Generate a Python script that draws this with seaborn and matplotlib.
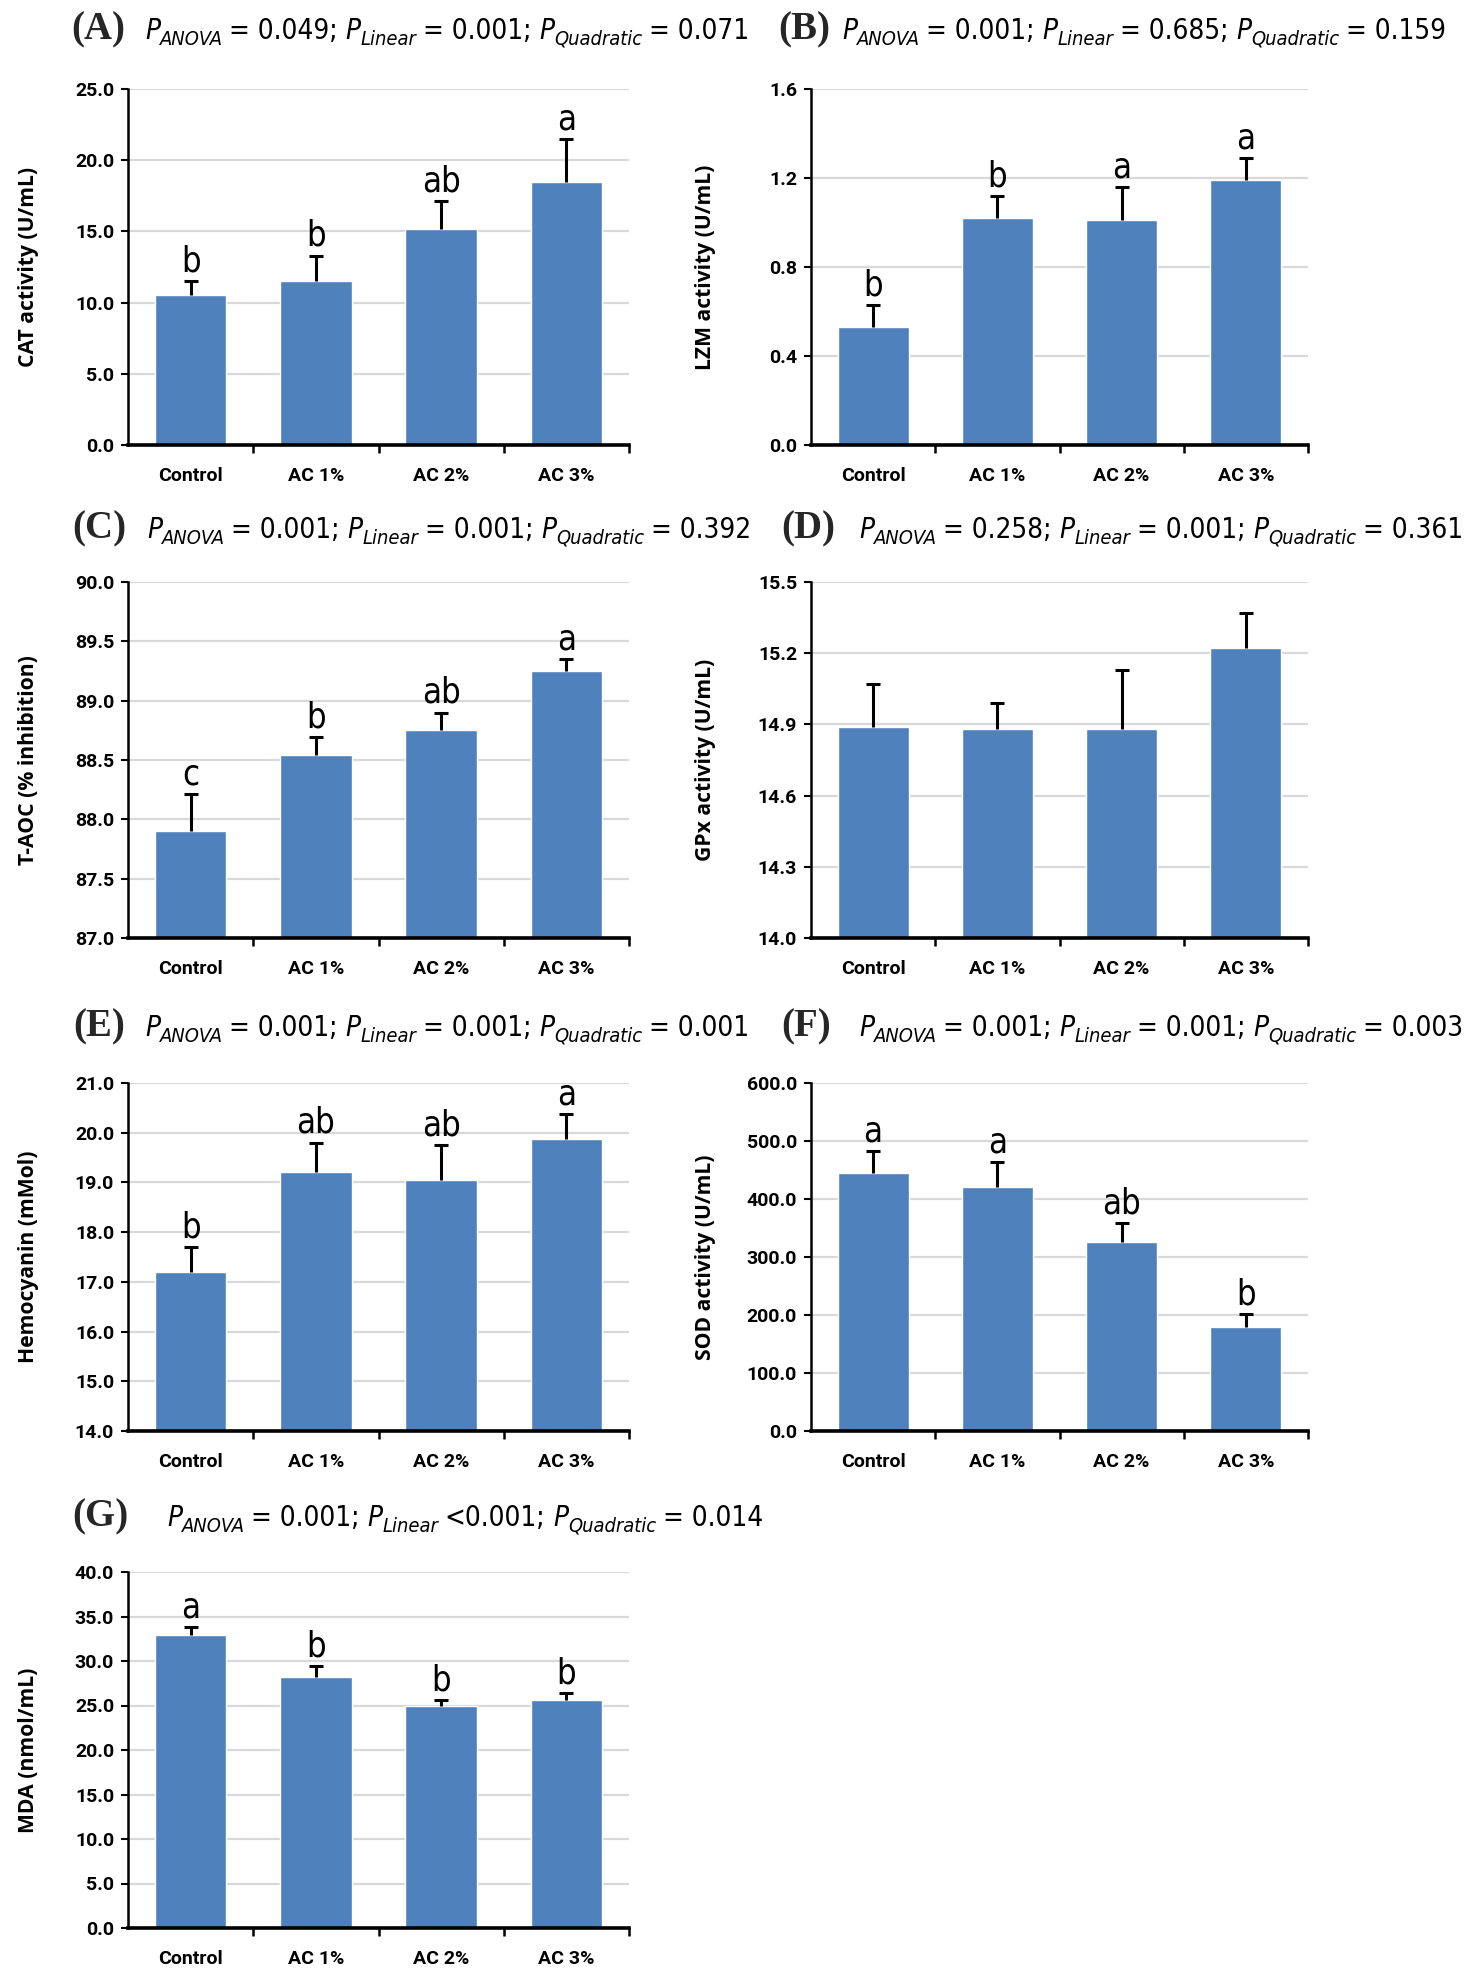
import os
import matplotlib
matplotlib.use("Agg")
import matplotlib.pyplot as plt
from matplotlib import font_manager as fm
from matplotlib.ticker import FormatStrFormatter, FixedLocator, NullFormatter
import seaborn as sns
import pandas as pd
import numpy as np

# ---------------- data ----------------
groups = ["Control", "AC 1%", "AC 2%", "AC 3%"]

cat_mean = [10.5, 11.5, 15.2, 18.5]
cat_err = [1.0, 1.8, 1.9, 3.0]
cat_letters = ["b", "b", "ab", "a"]

lzm_mean = [0.53, 1.02, 1.01, 1.19]
lzm_err = [0.10, 0.10, 0.15, 0.10]
lzm_letters = ["b", "b", "a", "a"]

taoc_mean = [87.90, 88.54, 88.75, 89.25]
taoc_err = [0.31, 0.15, 0.15, 0.10]
taoc_letters = ["c", "b", "ab", "a"]

gpx_mean = [14.89, 14.88, 14.88, 15.22]
gpx_err = [0.18, 0.11, 0.25, 0.15]
gpx_letters = ["", "", "", ""]

hemo_mean = [17.2, 19.2, 19.05, 19.87]
hemo_err = [0.5, 0.6, 0.7, 0.5]
hemo_letters = ["b", "ab", "ab", "a"]

sod_mean = [445.0, 420.0, 326.0, 180.0]
sod_err = [37.0, 43.0, 32.0, 22.0]
sod_letters = ["a", "a", "ab", "b"]

mda_mean = [32.9, 28.2, 25.0, 25.6]
mda_err = [0.9, 1.2, 0.6, 0.8]
mda_letters = ["a", "b", "b", "b"]

panel_tags = ["(A)", "(B)", "(C)", "(D)", "(E)", "(F)", "(G)"]
p_anova = ["= 0.049;", "= 0.001;", "= 0.001;", "= 0.258;", "= 0.001;", "= 0.001;", "= 0.001;"]
p_linear = ["= 0.001;", "= 0.685;", "= 0.001;", "= 0.001;", "= 0.001;", "= 0.001;", "<0.001;"]
p_quad = ["= 0.071", "= 0.159", "= 0.392", "= 0.361", "= 0.001", "= 0.003", "= 0.014"]

ylabels = ["CAT activity (U/mL)", "LZM activity (U/mL)", "T-AOC (% inhibition)",
           "GPx activity (U/mL)", "Hemocyanin (mMol)", "SOD activity (U/mL)",
           "MDA (nmol/mL)"]
yticks = [
    [0.0, 5.0, 10.0, 15.0, 20.0, 25.0],
    [0.0, 0.4, 0.8, 1.2, 1.6],
    [87.0, 87.5, 88.0, 88.5, 89.0, 89.5, 90.0],
    [14.0, 14.3, 14.6, 14.9, 15.2, 15.5],
    [14.0, 15.0, 16.0, 17.0, 18.0, 19.0, 20.0, 21.0],
    [0.0, 100.0, 200.0, 300.0, 400.0, 500.0, 600.0],
    [0.0, 5.0, 10.0, 15.0, 20.0, 25.0, 30.0, 35.0, 40.0],
]
means = [cat_mean, lzm_mean, taoc_mean, gpx_mean, hemo_mean, sod_mean, mda_mean]
errs = [cat_err, lzm_err, taoc_err, gpx_err, hemo_err, sod_err, mda_err]
letters = [cat_letters, lzm_letters, taoc_letters, gpx_letters, hemo_letters,
           sod_letters, mda_letters]

# ---------------- fonts ----------------
sns.set_theme(style="white")
plt.rcParams["font.family"] = ["Roboto", "DejaVu Sans"]

files = {os.path.basename(f.fname): f.fname for f in fm.fontManager.ttflist}


def first_file(names):
    for n in names:
        for k, v in files.items():
            if k.lower().startswith(n.lower()):
                return v
    return None


cond_sets = [
    ("LiberationSansNarrow-Regular", "LiberationSansNarrow-Italic"),
    ("NotoSans-ExtraCondensed.", "NotoSans-ExtraCondensedItalic"),
    ("NotoSans-Condensed.", "NotoSans-CondensedItalic"),
    ("OpenSans-Condensed-Regular", "OpenSans-Condensed-Italic"),
    ("NotoSans-SemiCondensed.", "NotoSans-SemiCondensedItalic"),
    ("DejaVuSansCondensed.", "DejaVuSansCondensed-Oblique"),
]
REG = ITA = None
for rn, itn in cond_sets:
    r_ = first_file([rn])
    i_ = first_file([itn])
    if r_ and i_:
        REG, ITA = r_, i_
        break
if REG is None:
    REG = fm.findfont(fm.FontProperties(family="Roboto"))
    ITA = fm.findfont(fm.FontProperties(family="Roboto", style="italic"))


def fp(path, size):
    return fm.FontProperties(fname=path, size=size)


BAR = "#4F81BD"
W, H = 1481, 1972
fig = plt.figure(figsize=(W / 100, H / 100), dpi=100)
fig.patch.set_facecolor("white")
renderer = fig.canvas.get_renderer()


def text_width(s, prop):
    t = fig.text(0, 0, s, fontproperties=prop)
    w = t.get_window_extent(renderer).width
    t.remove()
    return w


def draw_p(x0, base, anova, lin, quad, size, draw=True):
    """Draw a P-value line piece by piece; return total width in px."""
    sub = size * 0.72
    main_r, main_i, sub_i = fp(REG, size), fp(ITA, size), fp(ITA, sub)
    space = text_width("x x", main_r) - text_width("xx", main_r)
    drop = size * 0.20 * 100 / 72
    pieces = [("P", main_i, 0, 0), ("ANOVA", sub_i, drop, space * 0.8),
              (anova, main_r, 0, space),
              ("P", main_i, 0, 0), ("Linear", sub_i, drop, space * 0.8),
              (lin, main_r, 0, space),
              ("P", main_i, 0, 0), ("Quadratic", sub_i, drop, space * 0.8),
              (quad, main_r, 0, 0)]
    x = x0
    arts = []
    for s, prop, dy, gap in pieces:
        t = fig.text(x / W, 1 - (base + dy) / H, s, fontproperties=prop,
                     va="baseline", ha="left", color="black")
        x = t.get_window_extent(renderer).x1 + gap
        arts.append(t)
    if not draw:
        for t in arts:
            t.remove()
    return x - x0


# fit title font size to the reference width of the panel A line
trial = 25.0
w_trial = draw_p(0, 100, p_anova[0], p_linear[0], p_quad[0], trial, draw=False)
PSIZE = trial * 607.0 / w_trial

# letter size fitted to the reference width of "ab"
lsize = 26.0 * 39.0 / text_width("ab", fp(REG, 26.0))
lsize = min(lsize, 30.0)

# axes boxes in pixels: (left, right) and (top, bottom)
cols = [(128, 629), (811, 1308)]
rows = [(89, 445), (582, 938), (1083, 1431), (1572, 1928)]
label_x = [39, 716]          # right edge of the rotated y label
tag_x = [[71, 778], [72, 781], [73, 781], [72, None]]
ptxt_x = [[145, 842], [147, 859], [145, 859], [167, None]]
base_y = [39, 538, 1036, 1526]

for i in range(7):
    r, c = divmod(i, 2)
    l, rt = cols[c]
    t, b = rows[r]
    ax = fig.add_axes([l / W, 1 - b / H, (rt - l) / W, (b - t) / H])
    df = pd.DataFrame({"group": groups, "value": means[i]})
    sns.barplot(data=df, x="group", y="value", order=groups, color=BAR,
                saturation=1, width=0.57, errorbar=None, ax=ax, zorder=2)
    x = np.arange(len(groups))
    eb = ax.errorbar(x, means[i], yerr=[np.zeros(len(groups)), errs[i]],
                     fmt="none", ecolor="black", elinewidth=2.2, capsize=5,
                     capthick=2.2, zorder=3)
    for cl in eb[1]:
        if np.allclose(cl.get_ydata(), means[i]):
            cl.set_visible(False)
    for k, lab in enumerate(letters[i]):
        if lab:
            ax.annotate(lab, (x[k], means[i][k] + errs[i][k]), xytext=(0, 7),
                        textcoords="offset points", ha="center", va="baseline",
                        fontproperties=fp(REG, lsize), color="black")
    ax.set_xlim(-0.5, 3.5)
    ax.set_ylim(yticks[i][0], yticks[i][-1])
    ax.set_yticks(yticks[i])
    ax.yaxis.set_major_formatter(FormatStrFormatter("%.1f"))
    ax.yaxis.grid(True, color="#D9D9D9", lw=1.6)
    ax.set_axisbelow(True)
    for s in ["top", "right"]:
        ax.spines[s].set_visible(False)
    ax.spines["left"].set_color("black")
    ax.spines["left"].set_linewidth(1.8)
    ax.spines["bottom"].set_color("black")
    ax.spines["bottom"].set_linewidth(2.6)
    ax.tick_params(axis="y", which="major", direction="out", length=5, width=1.5,
                   color="black", pad=5, labelsize=14, left=True)
    ax.tick_params(axis="x", which="major", length=0, pad=16, labelsize=14)
    ax.xaxis.set_minor_locator(FixedLocator([0.5, 1.5, 2.5, 3.5]))
    ax.xaxis.set_minor_formatter(NullFormatter())
    ax.tick_params(axis="x", which="minor", direction="out", length=6, width=1.8,
                   color="black", bottom=True)
    for tl in ax.get_xticklabels() + ax.get_yticklabels():
        tl.set_fontweight("bold")
        tl.set_color("black")
    ax.set_xlabel("")
    ax.set_ylabel(ylabels[i], fontsize=15.2, fontweight="bold",
                  family=["Open Sans", "DejaVu Sans"], color="black")
    ax.yaxis.set_label_coords((label_x[c] - l) / (rt - l), 0.5)

    # titles
    by = base_y[r]
    fig.text(tag_x[r][c] / W, 1 - by / H, panel_tags[i], fontsize=28,
             fontweight="bold", family=["Liberation Serif", "DejaVu Serif"],
             va="baseline", ha="left")
    draw_p(ptxt_x[r][c], by, p_anova[i], p_linear[i], p_quad[i], PSIZE)

fig.savefig("out.png", dpi=100, facecolor="white")
